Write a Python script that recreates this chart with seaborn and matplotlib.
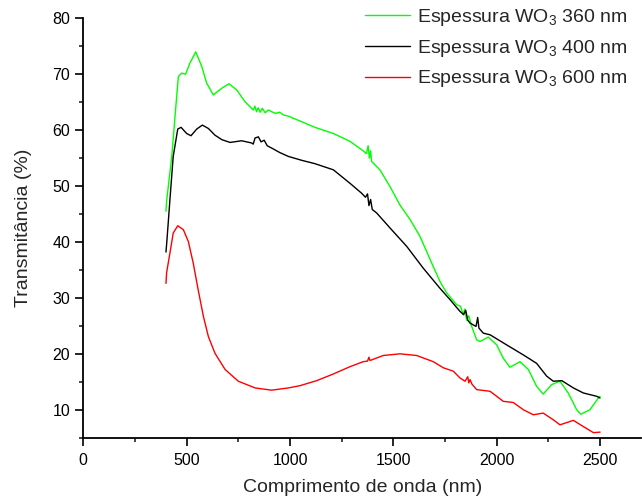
import numpy as np
import pandas as pd
import matplotlib
matplotlib.use("Agg")
import matplotlib.pyplot as plt
import seaborn as sns
from matplotlib.ticker import MultipleLocator

# ---- data ----
labels = ["Espessura WO$_3$ 360 nm", "Espessura WO$_3$ 400 nm", "Espessura WO$_3$ 600 nm"]

x_360 = [400, 403, 428, 445, 460, 476, 495, 516, 544, 573, 597, 629, 670, 705, 742, 782, 822,
         830, 838, 846, 856, 866, 880, 895, 911, 930, 950, 970, 992, 1057, 1121, 1210, 1290,
         1347, 1370, 1378, 1384, 1390, 1395, 1435, 1484, 1532, 1581, 1629, 1693, 1726, 1758,
         1806, 1825, 1838, 1845, 1855, 1865, 1879, 1903, 1919, 1959, 2000, 2032, 2064, 2113,
         2153, 2193, 2225, 2266, 2306, 2346, 2387, 2407, 2451, 2492, 2500]
y_360 = [45.5, 47.3, 55.3, 63.0, 69.6, 70.2, 70.0, 72.0, 74.0, 71.4, 68.4, 66.3, 67.5, 68.3,
         67.2, 65.1, 63.6, 64.3, 63.3, 64.0, 63.2, 63.9, 63.1, 63.6, 63.3, 63.0, 63.2, 62.7,
         62.5, 61.5, 60.5, 59.4, 58.0, 56.5, 55.8, 57.2, 55.0, 56.3, 54.4, 52.9, 49.9, 46.6,
         44.0, 41.0, 35.6, 32.9, 30.9, 28.8, 28.5, 27.0, 28.0, 26.0, 26.8, 24.9, 22.5, 22.2,
         23.0, 21.6, 19.2, 17.6, 18.6, 17.2, 14.2, 12.8, 14.5, 15.1, 13.0, 10.0, 9.2, 10.0,
         12.1, 12.4]

x_400 = [400, 404, 420, 435, 457, 473, 500, 521, 549, 576, 605, 637, 670, 710, 766, 815, 822,
         831, 847, 860, 875, 890, 911, 950, 992, 1057, 1121, 1210, 1290, 1347, 1365, 1375,
         1382, 1390, 1398, 1419, 1484, 1565, 1645, 1726, 1774, 1822, 1840, 1850, 1860, 1871,
         1900, 1908, 1914, 1935, 1968, 2048, 2129, 2193, 2242, 2274, 2315, 2371, 2419, 2484,
         2500]
y_400 = [38.2, 40.0, 48.0, 55.3, 60.2, 60.5, 59.4, 59.0, 60.2, 60.9, 60.3, 59.1, 58.3, 57.8,
         58.1, 57.7, 57.5, 58.6, 58.8, 57.9, 58.2, 57.2, 56.8, 56.0, 55.3, 54.6, 54.0, 52.9,
         50.5, 48.7, 48.0, 48.6, 46.5, 47.6, 45.8, 45.2, 42.5, 39.2, 35.3, 31.7, 29.7, 27.6,
         27.0, 27.8, 26.0, 25.5, 24.9, 26.5, 24.6, 23.7, 23.4, 21.6, 19.8, 18.3, 16.0, 15.1,
         15.2, 13.9, 13.0, 12.4, 12.1]

x_600 = [400, 403, 419, 435, 457, 484, 508, 532, 556, 581, 605, 637, 686, 750, 831, 911, 992,
         1048, 1129, 1210, 1290, 1355, 1375, 1382, 1387, 1451, 1532, 1613, 1693, 1742, 1790,
         1822, 1847, 1860, 1865, 1871, 1880, 1903, 1968, 2032, 2080, 2129, 2177, 2225, 2274,
         2306, 2371, 2419, 2468, 2500]
y_600 = [32.6, 34.5, 38.0, 41.6, 42.9, 42.2, 40.1, 36.2, 31.4, 26.7, 23.1, 20.1, 17.2, 15.1,
         13.9, 13.5, 13.9, 14.3, 15.2, 16.4, 17.7, 18.6, 18.7, 19.4, 18.8, 19.7, 20.0, 19.7,
         18.6, 17.5, 16.9, 15.7, 15.1, 15.9, 14.8, 15.4, 14.6, 13.6, 13.3, 11.5, 11.3, 10.0,
         9.1, 9.4, 8.2, 7.3, 8.1, 7.0, 5.9, 6.0]

colors = ["#00ff00", "#000000", "#ff0000"]

frames = []
for lab, xs, ys in zip(labels, [x_360, x_400, x_600], [y_360, y_400, y_600]):
    frames.append(pd.DataFrame({"x": xs, "y": ys, "serie": lab}))
df = pd.concat(frames, ignore_index=True)

sns.set_style("ticks")
plt.rcParams["font.family"] = ["Liberation Sans", "DejaVu Sans"]
plt.rcParams["mathtext.default"] = "regular"

fig = plt.figure(figsize=(6.42, 5.03), dpi=100)
ax = fig.add_axes([83.3 / 642, 1 - 437.7 / 503, 2700 * 0.2067 / 642, (437.7 - 18.3) / 503])

sns.lineplot(data=df, x="x", y="y", hue="serie", palette=colors, sort=False,
             estimator=None, units="serie", linewidth=1.0, ax=ax, legend=True)

ax.set_xlim(0, 2700)
ax.set_ylim(5, 80)
ax.xaxis.set_major_locator(MultipleLocator(500))
ax.xaxis.set_minor_locator(MultipleLocator(250))
ax.set_yticks(range(10, 81, 10))
ax.yaxis.set_minor_locator(MultipleLocator(5))
ax.tick_params(which="major", direction="out", length=6, width=1.2, labelsize=11.5,
               colors="black")
ax.tick_params(axis="x", which="major", pad=5)
ax.tick_params(which="minor", direction="out", length=3, width=1.2)
for s in ["top", "right"]:
    ax.spines[s].set_visible(False)
for s in ["left", "bottom"]:
    ax.spines[s].set_linewidth(1.3)
    ax.spines[s].set_color("black")

ax.set_xlabel("Comprimento de onda (nm)", fontsize=14)
ax.xaxis.set_label_coords(0.5, -0.099)
ax.set_ylabel("Transmitância (%)", fontsize=14)
ax.yaxis.set_label_coords(-0.092, 0.5)

handles, labs = ax.get_legend_handles_labels()
ax.legend(handles, labs, loc="upper left", bbox_to_anchor=(365 / 642, 1 - 7 / 503),
          bbox_transform=fig.transFigure, frameon=False, fontsize=14,
          handlelength=2.3, handletextpad=0.35, labelspacing=0.5, borderpad=0,
          borderaxespad=0)

fig.savefig("out.png", dpi=100)
